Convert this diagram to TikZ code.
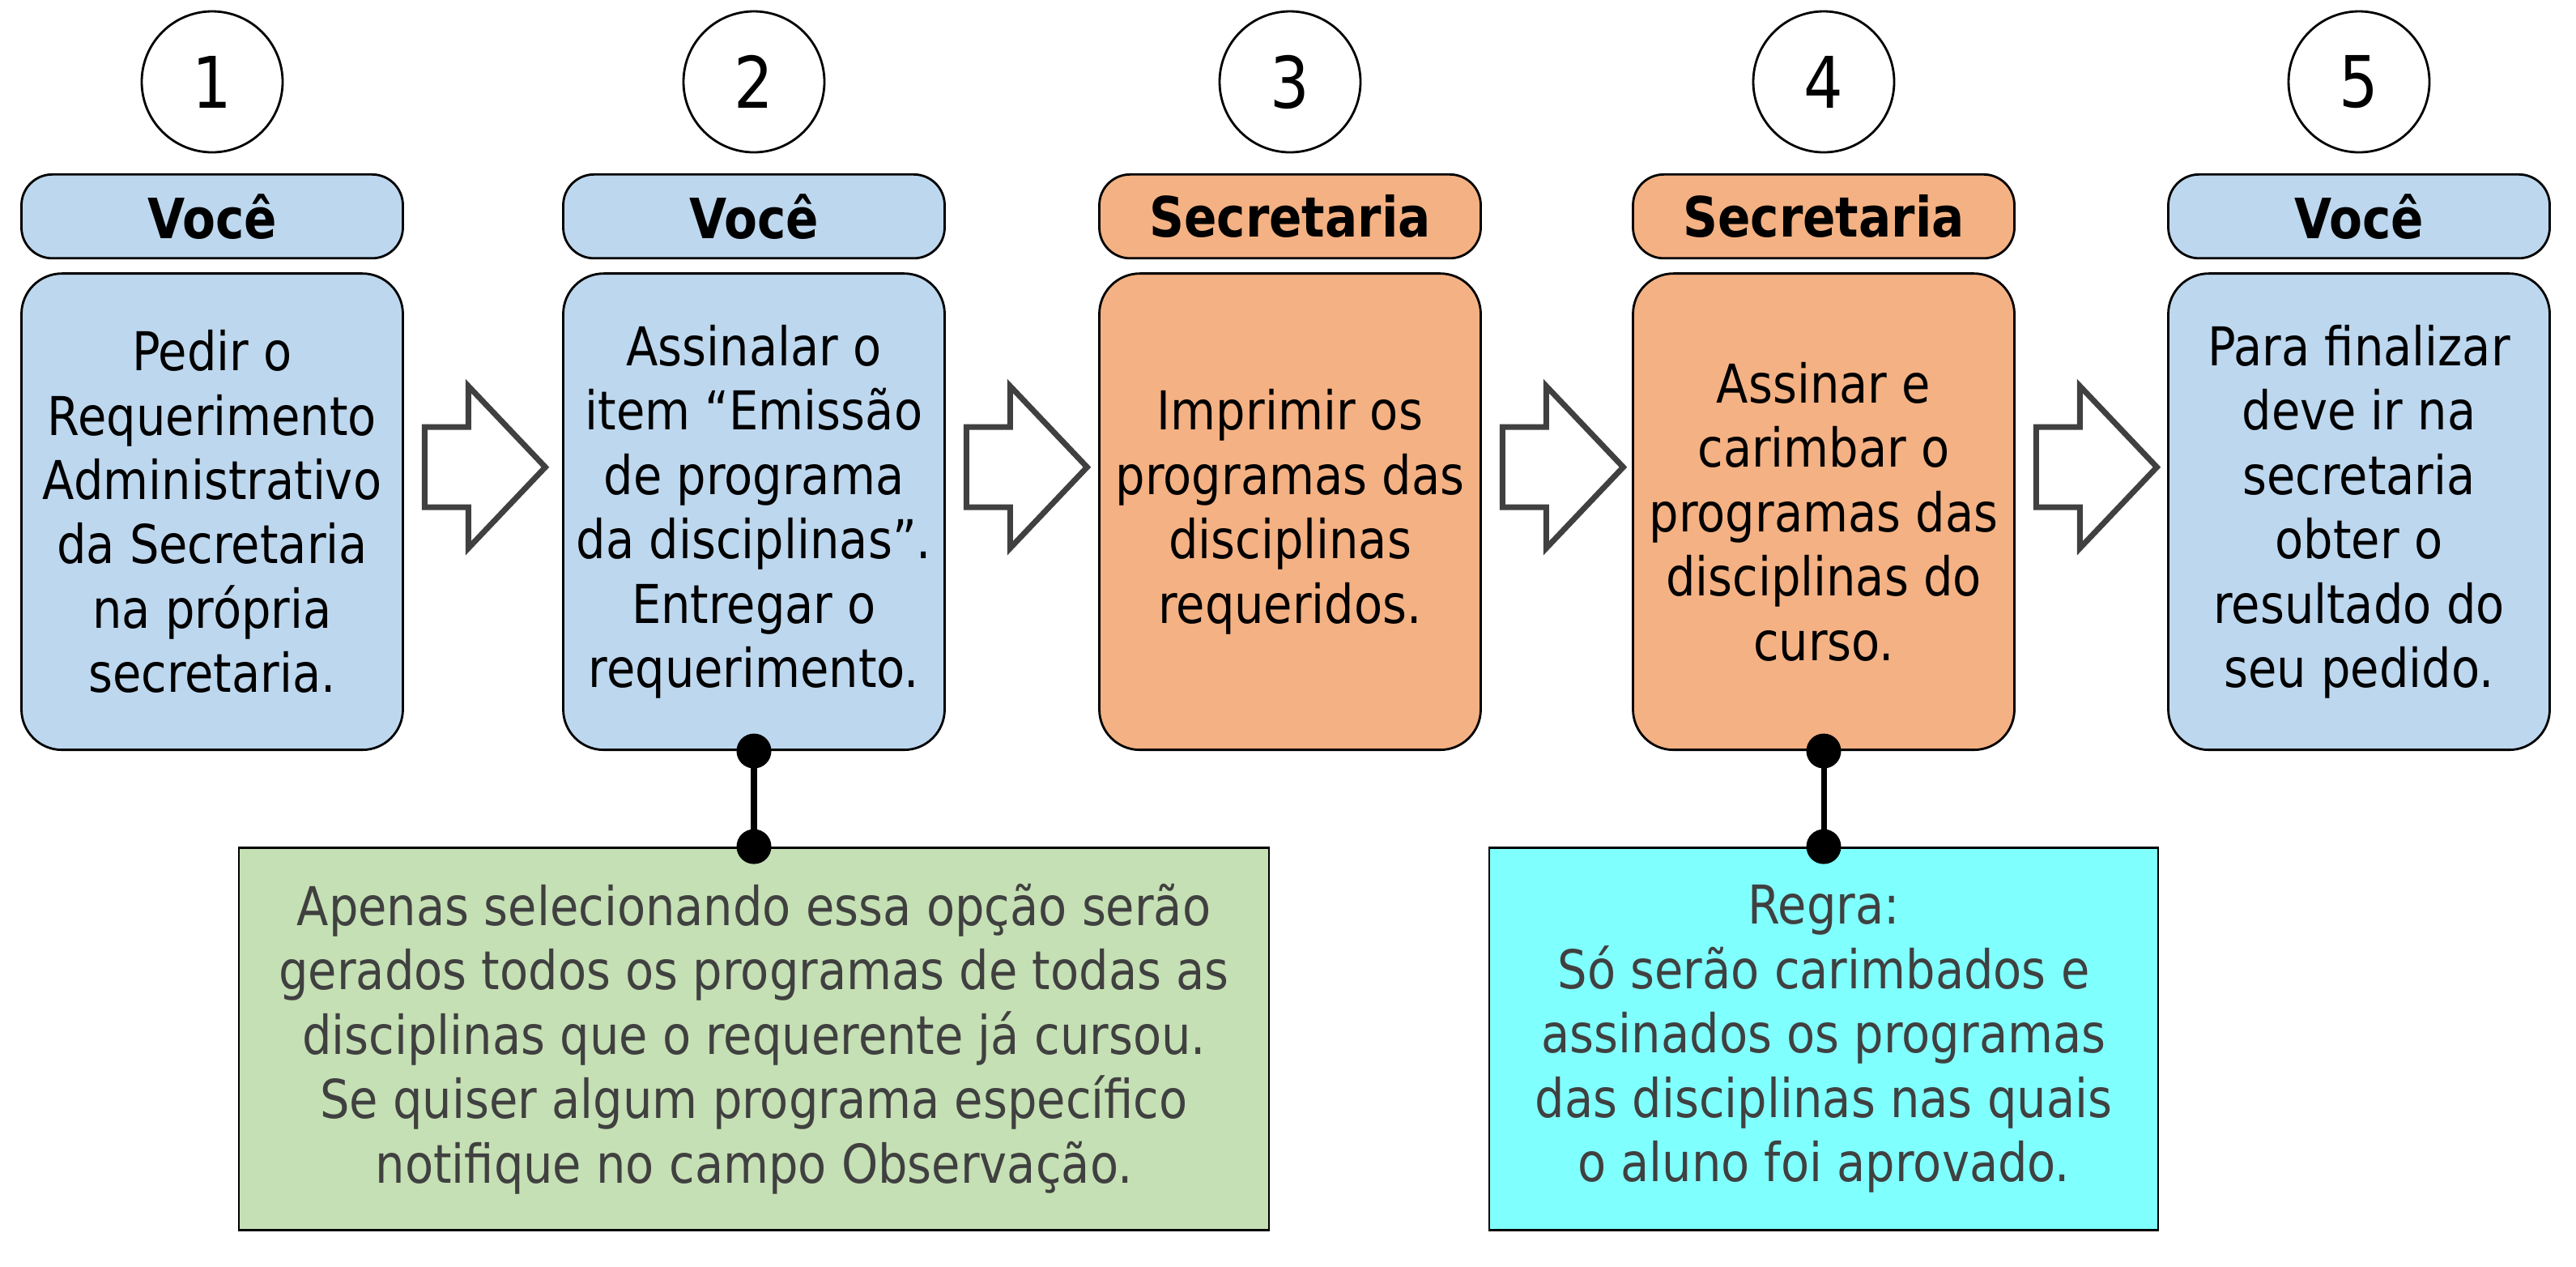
\documentclass[tikz,border=0pt]{standalone}
\usepackage{fontspec}
\setmainfont{DejaVu Sans}[FakeStretch=0.87]
\usetikzlibrary{positioning,calc}
\definecolor{vocefill}{RGB}{189,215,238}
\definecolor{secfill}{RGB}{244,177,131}
\definecolor{notegreen}{RGB}{197,224,180}
\definecolor{notecyan}{RGB}{128,255,255}
\definecolor{darktxt}{RGB}{64,64,64}
\tikzset{
  num/.style={circle, draw, line width=0.8pt, minimum size=1.74cm, inner sep=0pt,
    font=\fontsize{25}{30}\selectfont},
  tag/.style={draw, rounded corners=0.38cm, line width=0.8pt, minimum width=4.71cm,
    minimum height=1.035cm, inner sep=0pt, font=\fontsize{19.5}{23}\selectfont\bfseries},
  card/.style={draw, rounded corners=0.5cm, line width=0.8pt, minimum width=4.71cm,
    minimum height=5.88cm, inner sep=0pt, align=center, font=\fontsize{18.8}{22.6}\selectfont},
  note/.style={draw, line width=0.8pt, minimum height=4.72cm, inner sep=0pt, align=center,
    text=darktxt, font=\fontsize{18.8}{22.6}\selectfont},
  blockarrow/.style={draw=darktxt, fill=white, line width=2pt, line join=miter},
  link/.style={line width=2pt},
}
\begin{document}
\begin{tikzpicture}
  %\draw[help lines] (0,-16) grid (32,0);
  \useasboundingbox (0,0) rectangle (31.81,-15.63);
  \node[num] (c1) at (2.62,-1.01) {1};
  \node[num] (c2) at (9.31,-1.01) {2};
  \node[num] (c3) at (15.93,-1.01) {3};
  \node[num] (c4) at (22.52,-1.01) {4};
  \node[num] (c5) at (29.13,-1.01) {5};

  \node[tag, fill=vocefill, below=0.245cm of c1] (h1) {Você};
  \node[tag, fill=vocefill, below=0.245cm of c2] (h2) {Você};
  \node[tag, fill=secfill, below=0.245cm of c3] (h3) {Secretaria};
  \node[tag, fill=secfill, below=0.245cm of c4] (h4) {Secretaria};
  \node[tag, fill=vocefill, below=0.245cm of c5] (h5) {Você};

  \node[card, fill=vocefill, below=0.16cm of h1] (b1) {Pedir o\\Requerimento\\Administrativo\\
    da Secretaria\\na própria\\secretaria.};
  \node[card, fill=vocefill, below=0.16cm of h2] (b2) {Assinalar o\\item “Emissão\\de programa\\
    da disciplinas”.\\Entregar o\\requerimento.};
  \node[card, fill=secfill, below=0.16cm of h3] (b3) {Imprimir os\\programas das\\disciplinas\\
    requeridos.};
  \node[card, fill=secfill, below=0.16cm of h4] (b4) {Assinar e\\carimbar o\\programas das\\
    disciplinas do\\curso.};
  \node[card, fill=vocefill, below=0.16cm of h5] (b5) {Para finalizar\\deve ir na\\secretaria\\
    obter o\\resultado do\\seu pedido.};

  % big hollow arrows between the steps
  \foreach \a in {1,2,3,4}
    \draw[blockarrow, shift={($(b\a.east)+(0.255,0.55)$)}] (0,0.495) -- (0.54,0.495)
      -- (0.54,1.0) -- (1.49,0) -- (0.54,-1.0) -- (0.54,-0.495) -- (0,-0.495) -- cycle;

  \node[note, fill=notegreen, minimum width=12.72cm, below=1.18cm of b2] (n2)
    {Apenas selecionando essa opção serão\\gerados todos os programas de todas as\\
    disciplinas que o requerente já cursou.\\Se quiser algum programa específico\\
    notifique no campo Observação.};
  \node[note, fill=notecyan, minimum width=8.26cm, below=1.18cm of b4] (n4)
    {Regra:\\Só serão carimbados e\\assinados os programas\\das disciplinas nas quais\\
    o aluno foi aprovado.};

  \draw[link] (b2.south) -- (n2.north);
  \fill (b2.south) circle (0.215cm);
  \fill (n2.north) circle (0.215cm);
  \draw[link] (b4.south) -- (n4.north);
  \fill (b4.south) circle (0.215cm);
  \fill (n4.north) circle (0.215cm);
\end{tikzpicture}
\end{document}
